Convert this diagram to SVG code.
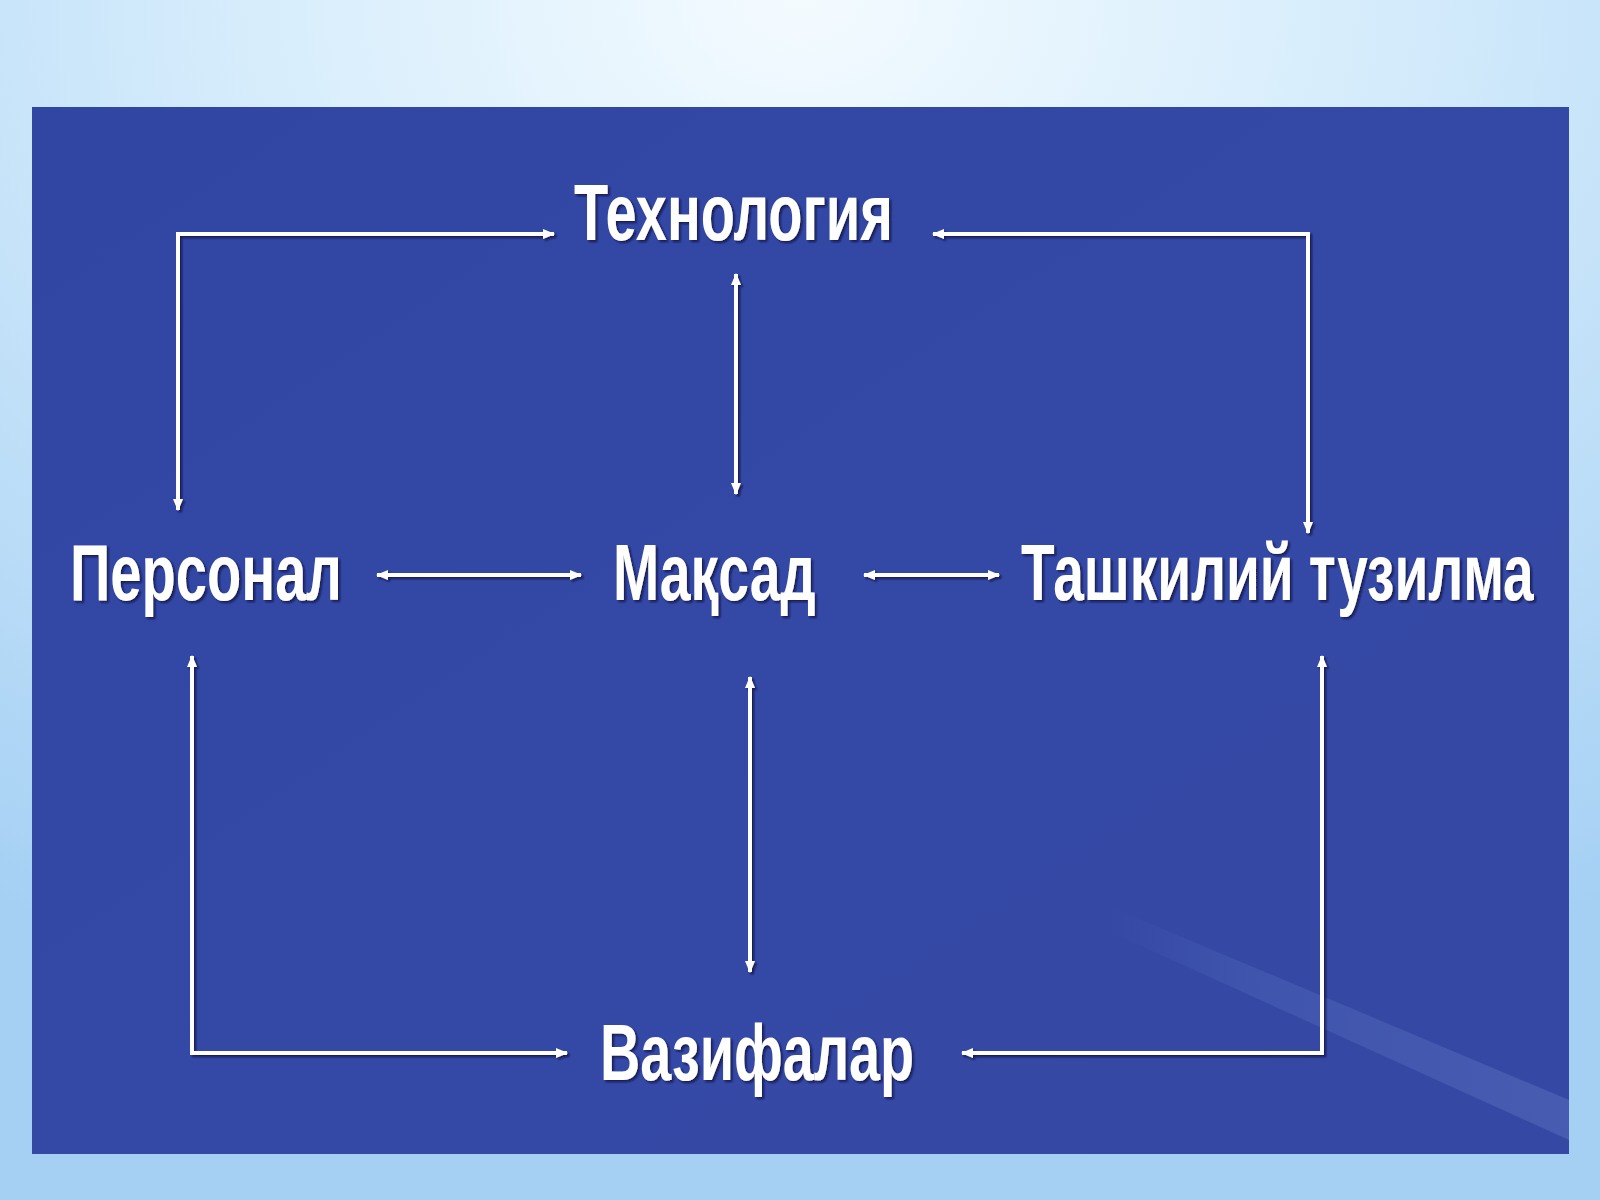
<svg xmlns="http://www.w3.org/2000/svg" width="1600" height="1200" viewBox="0 0 1600 1200">
<defs>
<radialGradient id="bg" cx="0.5" cy="0" r="0.9" fx="0.5" fy="0">
<stop offset="0" stop-color="#f4fbff"/>
<stop offset="0.35" stop-color="#d9eefc"/>
<stop offset="1" stop-color="#a5d0f4"/>
</radialGradient>
<linearGradient id="panel" x1="0" y1="0" x2="1" y2="1">
<stop offset="0" stop-color="#3145a2"/>
<stop offset="0.5" stop-color="#3449a6"/>
<stop offset="1" stop-color="#3548a3"/>
</linearGradient>
<linearGradient id="streak" x1="0" y1="0" x2="1" y2="0">
<stop offset="0" stop-color="#7a93dd" stop-opacity="0"/>
<stop offset="0.3" stop-color="#7a93dd" stop-opacity="0.16"/>
<stop offset="1" stop-color="#8aa2e4" stop-opacity="0.22"/>
</linearGradient>
<filter id="sh" x="-10%" y="-30%" width="120%" height="160%">
<feDropShadow dx="2" dy="2" stdDeviation="1.2" flood-color="#0a1040" flood-opacity="0.8"/>
</filter>
<marker id="ah" viewBox="0 0 12 12" refX="11" refY="6" markerWidth="12" markerHeight="12" markerUnits="userSpaceOnUse" orient="auto-start-reverse">
<path d="M0,1 L12,6 L0,11 Z" fill="#ffffff"/>
</marker>
</defs>
<style>
.t{font-family:"Liberation Sans","Arial",sans-serif;font-weight:bold;font-size:80px;fill:#ffffff;}
.c{fill:none;stroke:#ffffff;stroke-width:4;}
</style>
<rect x="0" y="0" width="1600" height="1200" fill="url(#bg)"/>
<rect x="32" y="107" width="1537" height="1047" fill="url(#panel)"/>
<polygon points="1106,905 1569,1100 1569,1140 1106,930" fill="url(#streak)"/>
<g id="connectors" filter="url(#sh)">
<path class="c" d="M178,510 V234 H554" marker-start="url(#ah)" marker-end="url(#ah)"/>
<path class="c" d="M933,234 H1308 V533" marker-start="url(#ah)" marker-end="url(#ah)"/>
<path class="c" d="M736,274 V494" marker-start="url(#ah)" marker-end="url(#ah)"/>
<path class="c" d="M377,575 H581" marker-start="url(#ah)" marker-end="url(#ah)"/>
<path class="c" d="M864,575 H999" marker-start="url(#ah)" marker-end="url(#ah)"/>
<path class="c" d="M750,677 V972" marker-start="url(#ah)" marker-end="url(#ah)"/>
<path class="c" d="M192,656 V1053 H567" marker-start="url(#ah)" marker-end="url(#ah)"/>
<path class="c" d="M1322,656 V1053 H962" marker-start="url(#ah)" marker-end="url(#ah)"/>
</g>
<g id="node-tech" filter="url(#sh)"><text class="t" transform="translate(574,240) scale(0.68,1)" x="0" y="0" textLength="469" lengthAdjust="spacingAndGlyphs">Технология</text></g>
<g id="node-personal" filter="url(#sh)"><text class="t" transform="translate(70,600) scale(0.68,1)" x="0" y="0" textLength="400" lengthAdjust="spacingAndGlyphs">Персонал</text></g>
<g id="node-maqsad" filter="url(#sh)"><text class="t" transform="translate(613,600) scale(0.68,1)" x="0" y="0" textLength="298" lengthAdjust="spacingAndGlyphs">Мақсад</text></g>
<g id="node-tashkiliy" filter="url(#sh)"><text class="t" transform="translate(1021,600) scale(0.68,1)" x="0" y="0" textLength="754" lengthAdjust="spacingAndGlyphs">Ташкилий тузилма</text></g>
<g id="node-vazifalar" filter="url(#sh)"><text class="t" transform="translate(600,1080) scale(0.68,1)" x="0" y="0" textLength="462" lengthAdjust="spacingAndGlyphs">Вазифалар</text></g>
</svg>
